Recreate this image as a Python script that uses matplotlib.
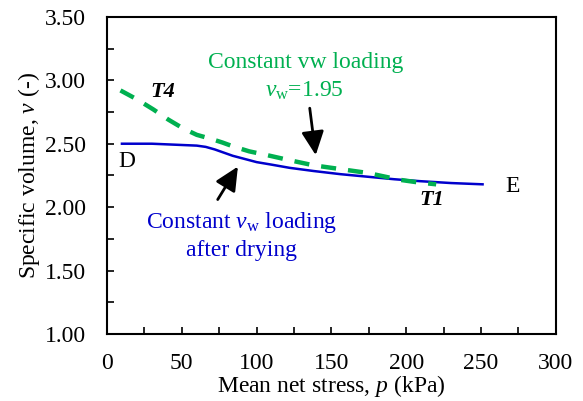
import matplotlib
matplotlib.use('Agg')
import matplotlib.pyplot as plt
from matplotlib.ticker import MultipleLocator, FormatStrFormatter

plt.rcParams['font.family'] = ['Liberation Serif', 'DejaVu Serif']
plt.rcParams['mathtext.fontset'] = 'custom'
plt.rcParams['mathtext.rm'] = 'Liberation Serif'
plt.rcParams['mathtext.it'] = 'Liberation Serif:italic'

# constant vw loading after drying (D -> E)
p_dry = [10, 30, 50, 60, 66, 72, 78, 84, 92, 100, 110, 122, 138, 156, 174, 192, 209, 230, 251]
v_dry = [2.50, 2.50, 2.49, 2.485, 2.475, 2.455, 2.43, 2.405, 2.38, 2.355, 2.335, 2.31, 2.285, 2.26, 2.24, 2.22, 2.205, 2.19, 2.18]

# constant vw loading, vw = 1.95 (T4 -> T1)
p_vw = [9, 20, 31, 41, 51, 60, 69, 77, 84, 95, 107, 122, 138, 156, 174, 186, 196, 208, 220]
v_vw = [2.92, 2.85, 2.77, 2.69, 2.62, 2.57, 2.54, 2.51, 2.48, 2.44, 2.41, 2.37, 2.33, 2.30, 2.27, 2.24, 2.215, 2.195, 2.18]

blue = '#0000cc'
green = '#00b050'

fig = plt.figure(figsize=(5.83, 4.01), dpi=100)
ax = fig.add_axes([0.1835, 0.167, 0.770, 0.791])

ax.plot(p_dry, v_dry, color=blue, lw=1.8)
ax.plot(p_vw, v_vw, color=green, lw=3.2, ls=(0, (3.4, 2.7)))

ax.set_xlim(0, 300)
ax.set_ylim(1.0, 3.5)
ax.xaxis.set_major_locator(MultipleLocator(50))
ax.xaxis.set_minor_locator(MultipleLocator(25))
ax.yaxis.set_major_locator(MultipleLocator(0.5))
ax.yaxis.set_minor_locator(MultipleLocator(0.25))
ax.yaxis.set_major_formatter(FormatStrFormatter('%.2f'))
ax.tick_params(which='both', direction='in', labelsize=17, width=1.2, length=5)
ax.tick_params(axis='x', pad=14)
ax.tick_params(axis='y', pad=15)
for s in ax.spines.values():
    s.set_linewidth(1.5)

ax.set_xlabel('Mean net stress, $\\it{p}$ (kPa)', fontsize=17, labelpad=-1)
ax.set_ylabel('Specific volume, $\\it{v}$ (-)', fontsize=17, labelpad=2)

ax.text(133, 3.14, 'Constant vw loading', color=green, fontsize=17, ha='center', va='center')
ax.text(132, 2.92, '$\\it{v}_{\\rm w}$=1.95', color=green, fontsize=17, ha='center', va='center')
ax.text(37, 2.91, 'T4', fontsize=16, fontweight='bold', fontstyle='italic', ha='center', va='center')
ax.text(13, 2.36, 'D', fontsize=17, ha='center', va='center')
ax.text(271, 2.16, 'E', fontsize=17, ha='center', va='center')
ax.text(217, 2.06, 'T1', fontsize=16, fontweight='bold', fontstyle='italic', ha='center', va='center')
ax.text(90, 1.88, 'Constant $\\it{v}_{\\rm w}$ loading', color=blue, fontsize=17, ha='center', va='center')
ax.text(90, 1.66, 'after drying', color=blue, fontsize=17, ha='center', va='center')

head = '-|>,head_length=0.8,head_width=0.38'
ax.annotate('', xy=(139.5, 2.41), xytext=(135.5, 2.78),
            arrowprops=dict(arrowstyle=head, color='black', lw=2, mutation_scale=18,
                            shrinkA=0, shrinkB=0))
ax.annotate('', xy=(87.5, 2.32), xytext=(74, 2.06),
            arrowprops=dict(arrowstyle=head, color='black', lw=2, mutation_scale=18,
                            shrinkA=0, shrinkB=0))

fig.savefig('out.png', dpi=100)
